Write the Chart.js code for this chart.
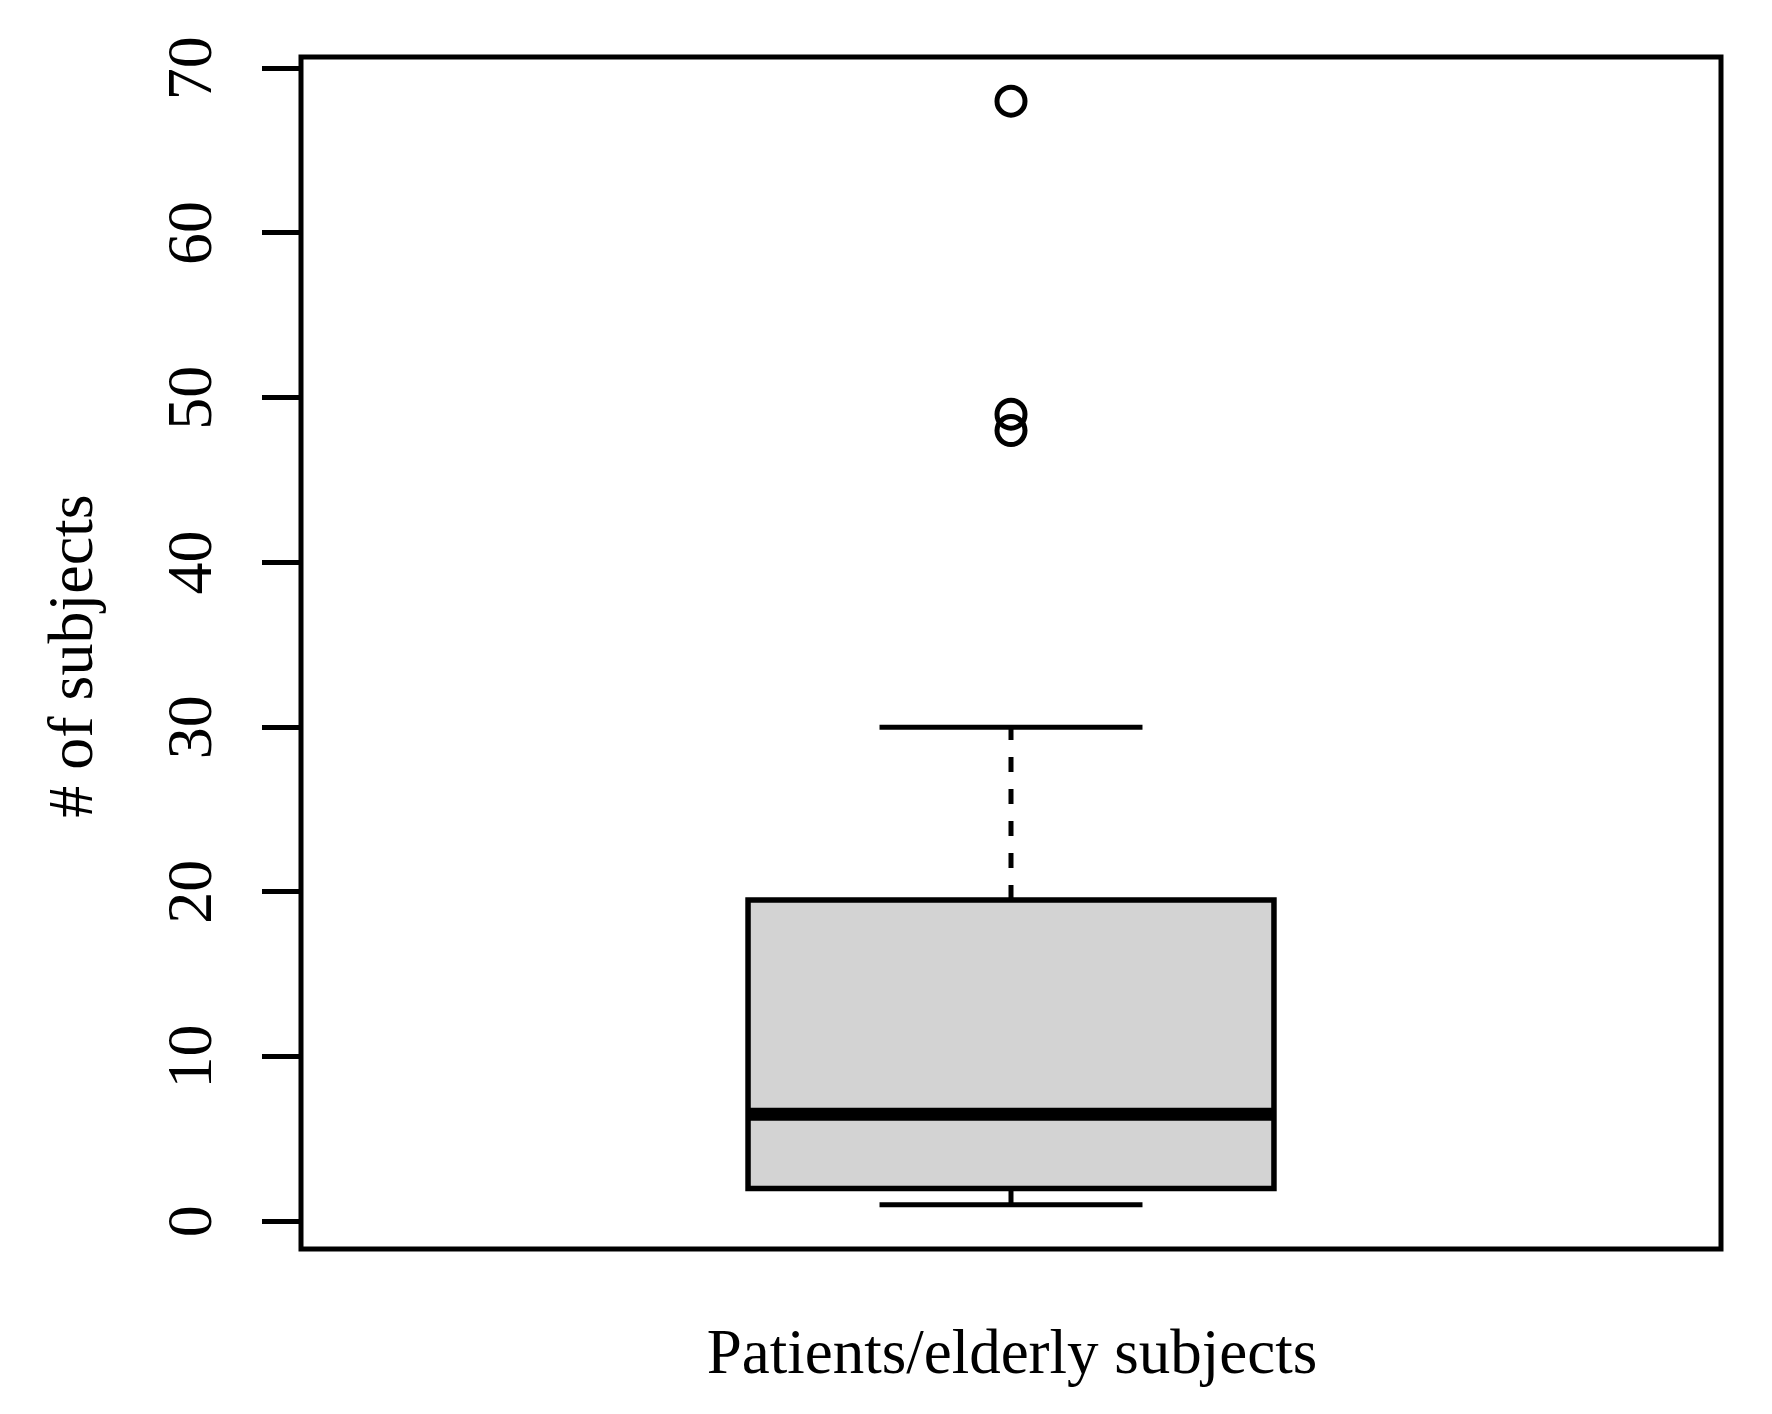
<!DOCTYPE html>
<html>
<head>
<meta charset="utf-8">
<title>Patients/elderly subjects</title>
<script src="https://cdn.jsdelivr.net/npm/chart.js@4.4.0/dist/chart.umd.min.js"></script>
<style>
  html, body { margin: 0; padding: 0; background: #fff; }
  canvas { display: block; }
</style>
</head>
<body>
<canvas id="box-chart" width="1772" height="1414"></canvas>
<script>
// Values
const groupLabels = ['Patients/elderly subjects'];
const boxStats = [1, 2, 6.5, 19.5, 30];   // lower whisker, Q1, median, Q3, upper whisker
const outliers = [68, 49, 48];
const yTicks = [0, 10, 20, 30, 40, 50, 60, 70];
const yTitle = '# of subjects';

const FONT = '64px "Liberation Serif", "Times New Roman", serif';
const LW = 5;
const boxPos = 1, halfBox = 0.2, halfCap = 0.1;
const [lo, q1, med, q3, hi] = boxStats;

const seg = (x0, y0, x1, y1) => [{ x: x0, y: y0 }, { x: x1, y: y1 }];
const lineDs = (data, extra) => Object.assign({
  type: 'scatter', showLine: true, data,
  borderColor: '#000', borderWidth: LW, borderCapStyle: 'butt',
  pointRadius: 0, pointHoverRadius: 0, fill: false
}, extra);

// frame, rotated tick labels and axis titles (R base-graphics look)
const rFrame = {
  id: 'rFrame',
  afterDraw(chart) {
    const { ctx, chartArea: a, scales } = chart;
    const ys = scales.y;
    ctx.save();
    ctx.strokeStyle = '#000';
    ctx.lineWidth = LW;
    ctx.strokeRect(a.left, a.top, a.right - a.left, a.bottom - a.top);

    ctx.fillStyle = '#000';
    ctx.font = FONT;
    ctx.textAlign = 'center';
    ctx.textBaseline = 'alphabetic';
    yTicks.forEach(v => {
      ctx.save();
      ctx.translate(211, ys.getPixelForValue(v));
      ctx.rotate(-Math.PI / 2);
      ctx.fillText(String(v), 0, 0);
      ctx.restore();
    });

    ctx.save();
    ctx.translate(92, (a.top + a.bottom) / 2 + 3);
    ctx.rotate(-Math.PI / 2);
    ctx.fillText(yTitle, 0, 0);
    ctx.restore();

    ctx.font = FONT.replace('64px', '63px');
    ctx.fillText(groupLabels[0], (a.left + a.right) / 2 + 1, 1373);
    ctx.restore();
  }
};

new Chart(document.getElementById('box-chart'), {
  data: {
    datasets: [
      { type: 'scatter', data: outliers.map(v => ({ x: boxPos, y: v })),
        pointRadius: 14, pointHoverRadius: 14, pointBorderWidth: LW,
        pointBackgroundColor: 'rgba(0,0,0,0)', pointBorderColor: '#000', order: 0 },
      lineDs(seg(boxPos - halfBox, med, boxPos + halfBox, med), { borderWidth: 13, order: 1 }),
      lineDs(seg(boxPos - halfCap, hi, boxPos + halfCap, hi), { order: 2 }),
      lineDs(seg(boxPos - halfCap, lo, boxPos + halfCap, lo), { order: 2 }),
      lineDs(seg(boxPos, q3, boxPos, hi), { borderDash: [15, 17], order: 3 }),
      lineDs(seg(boxPos, q1, boxPos, lo), { borderDash: [15, 17], order: 3 }),
      lineDs([
        { x: boxPos - halfBox, y: q1 }, { x: boxPos + halfBox, y: q1 },
        { x: boxPos + halfBox, y: q3 }, { x: boxPos - halfBox, y: q3 },
        { x: boxPos - halfBox, y: q1 }
      ], { fill: 'shape', backgroundColor: '#D3D3D3', borderWidth: 5.5,
           borderCapStyle: 'square', borderJoinStyle: 'miter', order: 4 })
    ]
  },
  options: {
    responsive: false,
    devicePixelRatio: 1,
    animation: false,
    events: [],
    layout: { autoPadding: false, padding: { left: 262, top: 57, right: 51, bottom: 165 } },
    plugins: { legend: { display: false }, tooltip: { enabled: false } },
    scales: {
      x: { type: 'linear', min: 0.46, max: 1.54, display: false },
      y: {
        type: 'linear', min: -1.68, max: 70.68,
        afterBuildTicks: s => { s.ticks = yTicks.map(v => ({ value: v })); },
        ticks: { display: false },
        grid: { drawOnChartArea: false, drawTicks: true, tickLength: 39,
                tickWidth: LW, tickColor: '#000', lineWidth: LW, color: '#000' },
        border: { display: false }
      }
    }
  },
  plugins: [rFrame]
});
</script>
</body>
</html>
